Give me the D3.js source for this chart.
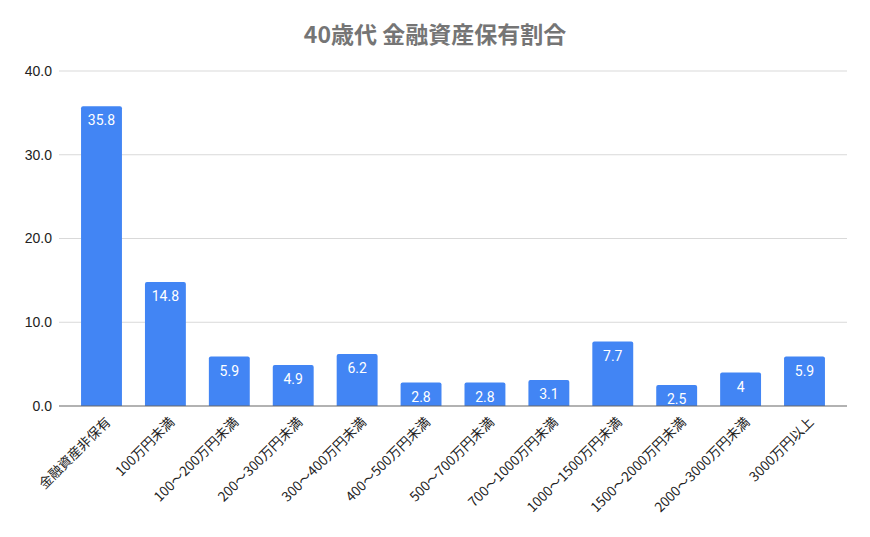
<!DOCTYPE html>
<html>

<head>
    <meta charset="utf-8" />
    <script src="https://d3js.org/d3.v7.min.js"></script>
    <style>
        body { margin: 0; background: #fff; }
        text { font-family: "Noto Sans CJK JP", Roboto, sans-serif; }
        .grid line { stroke: #d9d9d9; stroke-width: 1px; }
        .ylab { font-size: 14px; fill: #222; font-family: "Liberation Sans", Arial, sans-serif; }
        .xlab { font-size: 13.5px; fill: #222; }
        .val { font-size: 14px; fill: #fff; font-family: Roboto, sans-serif; }
    </style>
</head>

<body>
    <svg id="chart" width="870" height="537"></svg>

    <script>
        const categories = ["金融資産非保有", "100万円未満", "100～200万円未満", "200～300万円未満",
            "300～400万円未満", "400～500万円未満", "500～700万円未満", "700～1000万円未満",
            "1000～1500万円未満", "1500～2000万円未満", "2000～3000万円未満", "3000万円以上"];
        const values = [35.8, 14.8, 5.9, 4.9, 6.2, 2.8, 2.8, 3.1, 7.7, 2.5, 4, 5.9];
        const yTicks = [0, 10, 20, 30, 40];

        const svg = d3.select("#chart");
        const mLeft = 59, mRight = 847, mTop = 71, mBottom = 406;

        const x = d3.scaleBand()
            .domain(categories)
            .range([mLeft, mRight])
            .paddingInner(0.36)
            .paddingOuter(0.345);

        const y = d3.scaleLinear().domain([0, 40]).range([mBottom, mTop]);

        // title
        svg.append("text")
            .attr("x", 435).attr("y", 43)
            .attr("text-anchor", "middle")
            .style("font-size", "23px")
            .style("font-weight", "bold")
            .style("fill", "#757575")
            .text("40歳代 金融資産保有割合");

        // gridlines
        svg.append("g").attr("class", "grid")
            .selectAll("line")
            .data(yTicks.filter(d => d > 0))
            .join("line")
            .attr("x1", mLeft).attr("x2", mRight)
            .attr("y1", d => y(d)).attr("y2", d => y(d));

        // y labels
        svg.append("g")
            .selectAll("text")
            .data(yTicks)
            .join("text")
            .attr("class", "ylab")
            .attr("x", 52).attr("y", d => y(d))
            .attr("dy", "0.35em")
            .attr("text-anchor", "end")
            .text(d => d.toFixed(1));

        // bars, slightly rounded at the top
        const r = 2;
        svg.append("g")
            .selectAll("path")
            .data(values)
            .join("path")
            .attr("fill", "#4285f4")
            .attr("d", (d, i) => {
                const x0 = x(categories[i]), w = x.bandwidth(), y0 = y(d), y1 = y(0);
                return `M${x0},${y1}V${y0 + r}Q${x0},${y0} ${x0 + r},${y0}H${x0 + w - r}Q${x0 + w},${y0} ${x0 + w},${y0 + r}V${y1}Z`;
            });

        // baseline
        svg.append("line")
            .attr("x1", mLeft).attr("x2", mRight)
            .attr("y1", y(0)).attr("y2", y(0))
            .attr("stroke", "#666").attr("stroke-width", 1.2);

        // value labels
        svg.append("g")
            .selectAll("text")
            .data(values)
            .join("text")
            .attr("class", "val")
            .attr("x", (d, i) => x(categories[i]) + x.bandwidth() / 2)
            .attr("y", d => y(d) + 19)
            .attr("text-anchor", "middle")
            .text(d => d);

        // x labels rotated
        svg.append("g")
            .selectAll("text")
            .data(categories)
            .join("text")
            .attr("class", "xlab")
            .attr("text-anchor", "end")
            .attr("transform", d => `translate(${x(d) + x.bandwidth() / 2 + 10},${mBottom + 17}) rotate(-45)`)
            .text(d => d);
    </script>
</body>

</html>
